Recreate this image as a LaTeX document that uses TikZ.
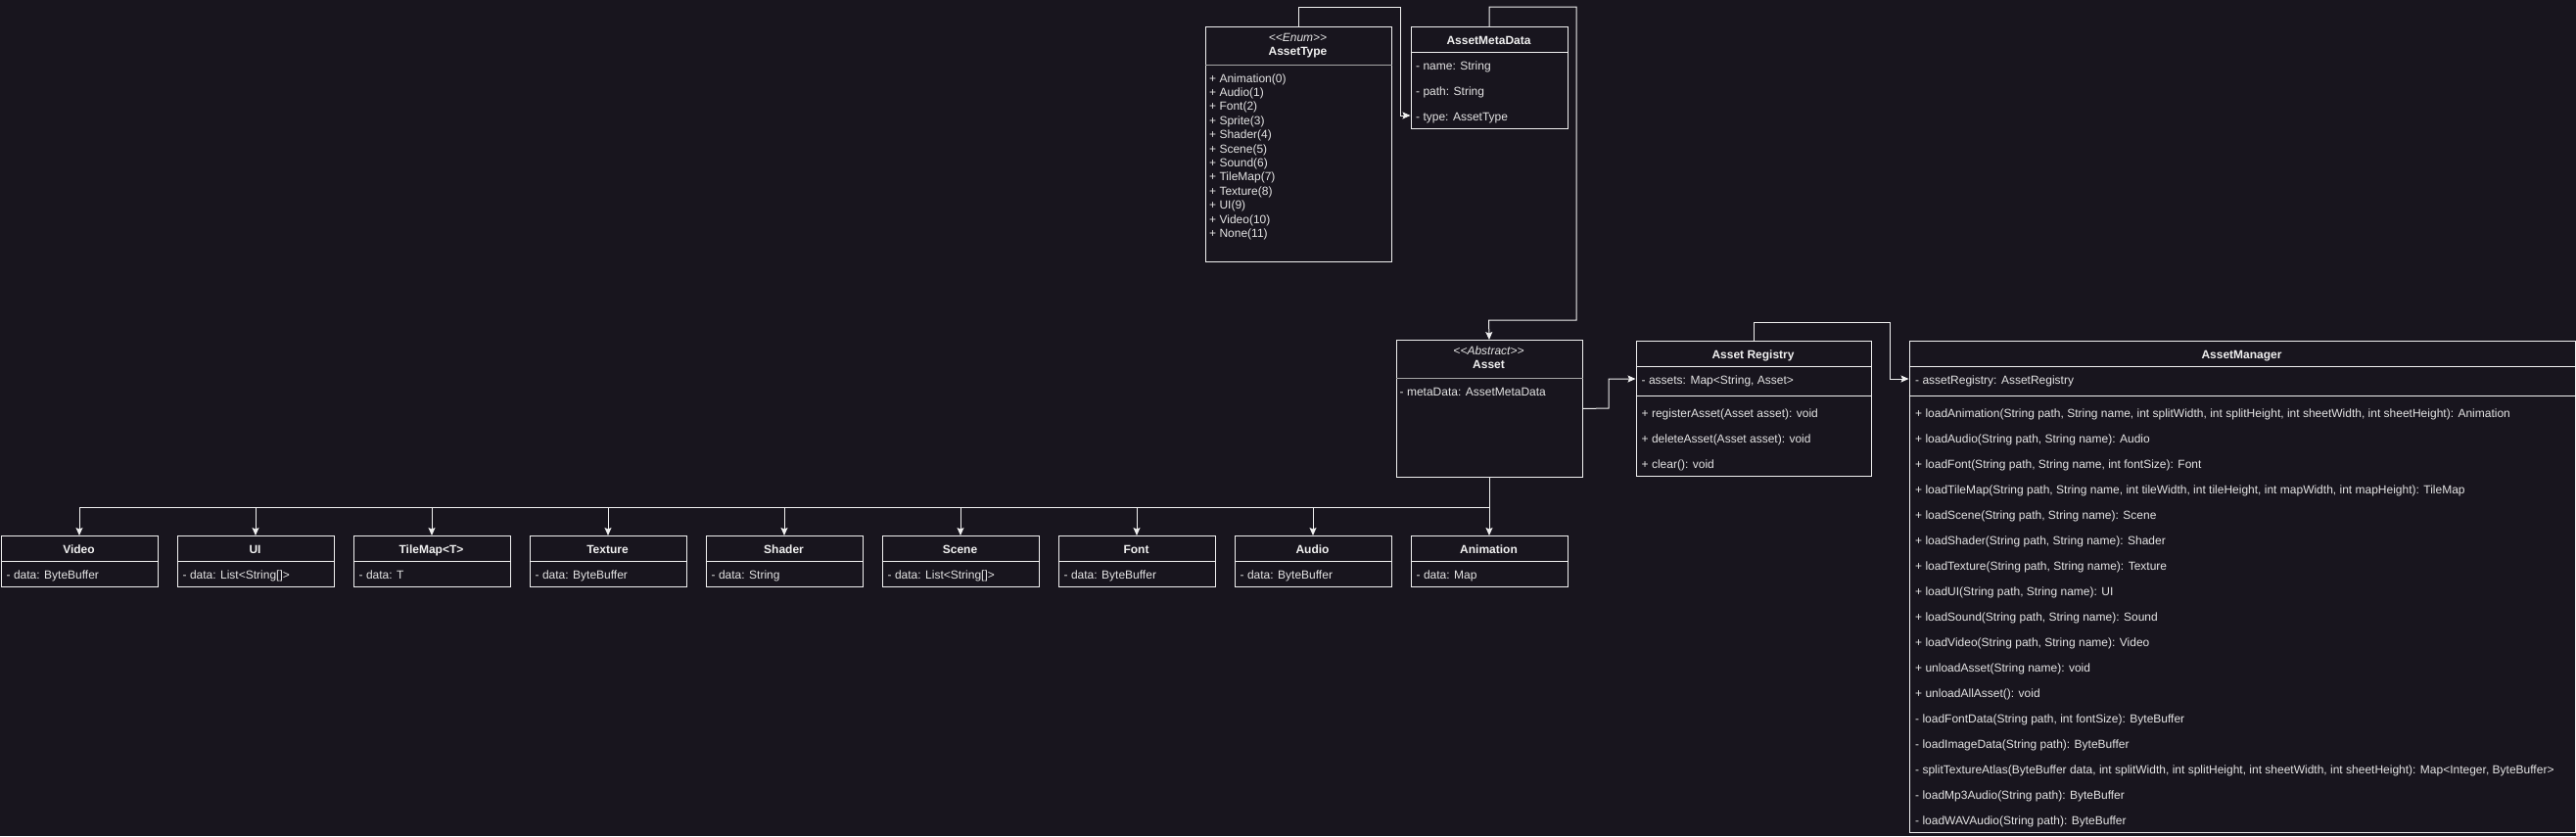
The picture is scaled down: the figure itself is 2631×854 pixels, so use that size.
\documentclass[tikz,border=0pt]{standalone}
\usepackage{fontspec}
\setmainfont{Liberation Sans}[Ligatures=TeXOff]
\usetikzlibrary{arrows.meta}
\definecolor{bg}{RGB}{24,21,30}
\definecolor{fg}{RGB}{240,240,240}
\definecolor{sepc}{RGB}{165,165,165}
\definecolor{txtc}{RGB}{228,228,228}
\begin{document}
\begin{tikzpicture}[x=1pt,y=-1pt,
  box/.style={draw=fg, line width=1pt, fill=bg, inner sep=0pt, anchor=north west},
  line/.style={draw=fg, line width=1pt},
  sepl/.style={draw=sepc, line width=1pt},
  arr/.style={line, -{Stealth[length=8pt,width=7pt,inset=1.5pt]}},
  ttl/.style={font=\fontsize{12}{14}\selectfont\bfseries, text=fg, inner sep=0pt, anchor=base},
  ster/.style={font=\fontsize{12}{14}\selectfont\itshape, text=txtc, inner sep=0pt, anchor=base},
  itm/.style={font=\fontsize{12}{14}\selectfont, text=txtc, inner sep=0pt, anchor=base west},
]
\useasboundingbox[fill=bg] (0,0) rectangle (2631,854);

% AssetType enum
\node[box, minimum width=190pt, minimum height=240pt] (atype) at (1230.5,27) {};
\draw[sepl] (atype.west |- 0,66) -- (atype.east |- 0,66);
\node[ster] (atypeS) at (1325.5,42) {<<Enum>>};
\node[ttl] (atypeT) at (1325.5,56) {AssetType};
\foreach \k/\t in {0/Animation(0),1/Audio(1),2/Font(2),3/Sprite(3),4/Shader(4),5/Scene(5),6/Sound(6),7/TileMap(7),8/Texture(8),9/UI(9),10/Video(10),11/None(11)}
  \node[itm] (ae\k) at (1235,84+14.4*\k) {+ \t};

% AssetMetaData
\node[box, minimum width=160pt, minimum height=104pt] (amd) at (1440.5,27) {};
\draw[line] (amd.west |- 0,53) -- (amd.east |- 0,53);
\node[ttl] (amdT) at (1520.5,45.3) {AssetMetaData};
\node[itm] (amd1) at (1446,71.3) {- name: String};
\node[itm] (amd2) at (1446,97.3) {- path: String};
\node[itm] (amd3) at (1446,123.3) {- type: AssetType};

% Asset
\node[box, minimum width=190pt, minimum height=140pt] (asset) at (1425.5,347) {};
\draw[sepl] (asset.west |- 0,386) -- (asset.east |- 0,386);
\node[ster] (assetS) at (1520.5,362) {<<Abstract>>};
\node[ttl] (assetT) at (1520.5,376) {Asset};
\node[itm] (asset1) at (1429.5,404) {- metaData: AssetMetaData};

% Asset Registry
\node[box, minimum width=240pt, minimum height=138pt] (reg) at (1670.5,348) {};
\draw[line] (reg.west |- 0,374) -- (reg.east |- 0,374);
\draw[line] (reg.west |- 0,404) -- (reg.east |- 0,404);
\node[ttl] (regT) at (1790.5,366.3) {Asset Registry};
\node[itm] (reg1) at (1676.5,392.3) {- assets: Map<String, Asset>};
\node[itm] (reg2) at (1676.5,426.3) {+ registerAsset(Asset asset): void};
\node[itm] (reg3) at (1676.5,452.3) {+ deleteAsset(Asset asset): void};
\node[itm] (reg4) at (1676.5,478.3) {+ clear(): void};

% AssetManager
\node[box, minimum width=680pt, minimum height=502pt] (mgr) at (1949.5,348) {};
\draw[line] (mgr.west |- 0,374) -- (mgr.east |- 0,374);
\draw[line] (mgr.west |- 0,404) -- (mgr.east |- 0,404);
\node[ttl] (mgrT) at (2289.5,366.3) {AssetManager};
\node[itm] (mgrA) at (1956,392.3) {- assetRegistry: AssetRegistry};
\foreach \k/\t in {
  0/{+ loadAnimation(String path, String name, int splitWidth, int splitHeight, int sheetWidth, int sheetHeight): Animation},
  1/{+ loadAudio(String path, String name): Audio},
  2/{+ loadFont(String path, String name, int fontSize): Font},
  3/{+ loadTileMap(String path, String name, int tileWidth, int tileHeight, int mapWidth, int mapHeight): TileMap},
  4/{+ loadScene(String path, String name): Scene},
  5/{+ loadShader(String path, String name): Shader},
  6/{+ loadTexture(String path, String name): Texture},
  7/{+ loadUI(String path, String name): UI},
  8/{+ loadSound(String path, String name): Sound},
  9/{+ loadVideo(String path, String name): Video},
  10/{+ unloadAsset(String name): void},
  11/{+ unloadAllAsset(): void},
  12/{- loadFontData(String path, int fontSize): ByteBuffer},
  13/{- loadImageData(String path): ByteBuffer},
  14/{- splitTextureAtlas(ByteBuffer data, int splitWidth, int splitHeight, int sheetWidth, int sheetHeight): Map<Integer, ByteBuffer>},
  15/{- loadMp3Audio(String path): ByteBuffer},
  16/{- loadWAVAudio(String path): ByteBuffer}}
  \node[itm] (mgrM\k) at (1956,426.3+26*\k) {\t};

% Subclasses
\foreach \i/\nm/\dt in {0/Video/ByteBuffer, 1/UI/{List<String[]>}, 2/{TileMap<T>}/T, 3/Texture/ByteBuffer, 4/Shader/String, 5/Scene/{List<String[]>}, 6/Font/ByteBuffer, 7/Audio/ByteBuffer, 8/Animation/Map} {
  \node[box, minimum width=160pt, minimum height=52pt] (c\i) at (180*\i+0.5,547) {};
  \draw[line] (c\i.west |- 0,573) -- (c\i.east |- 0,573);
  \node[ttl] (cT\i) at (180*\i+80.5,565.3) {\nm};
  \node[itm] (cD\i) at (180*\i+6.5,591.3) {- data: \dt};
  \draw[arr] (asset.south) -- ++(0,30) -| (c\i.north);
}

% Connectors
\draw[arr] (atype.north) |- (1430,7) |- (amd.west |- 0,118);
\draw[arr] (amd.north) |- (1610,7) |- (1520.5,327) -- (asset.north);
\draw[arr] (asset.east) -- (1643,417) |- (reg.west |- 0,387);
\draw[arr] (reg.north) |- (1930,329) |- (mgr.west |- 0,387);
\end{tikzpicture}
\end{document}
